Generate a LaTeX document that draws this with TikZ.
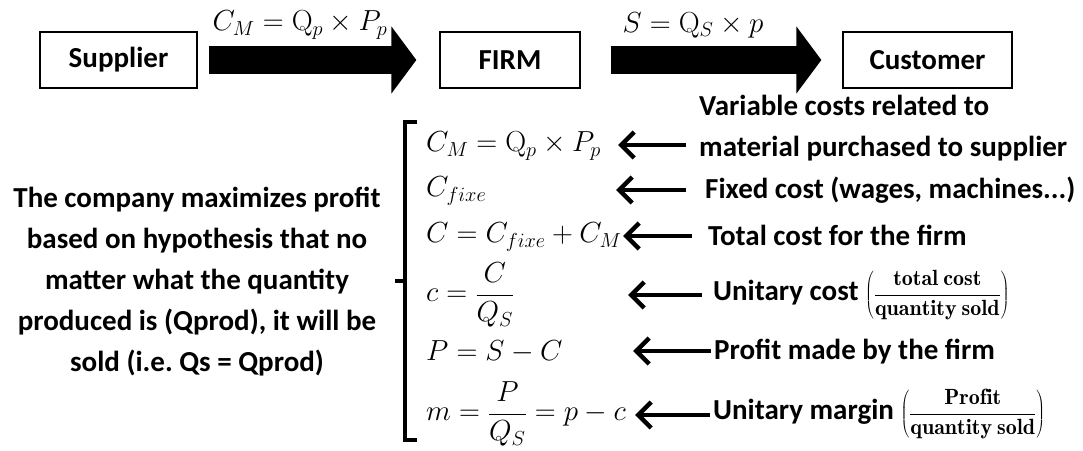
\RequirePackage{fix-cm}
\documentclass[tikz,border=0pt]{standalone}
\usepackage{fontspec}
\newfontfamily\carl{Carlito}
\usetikzlibrary{arrows.meta}
\newcommand{\labfrac}[2]{{\fontsize{22}{26}\selectfont$\displaystyle\left(\frac{\mathbf{#1}}{\mathbf{#2}}\right)$}}
\begin{document}
\begin{tikzpicture}[x=1pt,y=-1pt,
  txt/.style={font=\carl\bfseries\fontsize{29}{41}\selectfont, inner sep=0pt},
  lab/.style={txt, anchor=west},
  eq/.style={font=\fontsize{29}{35}\selectfont, inner sep=0pt, anchor=west},
  boxnode/.style={txt, draw, line width=1.3pt, minimum height=56pt},
  bigarrow/.style={line width=28pt, -{Triangle[length=25pt,width=66pt]}},
  larr/.style={line width=4.5pt, -{Straight Barb[length=13pt,width=26pt]}},
  brack/.style={line width=3.5pt}]
\useasboundingbox (0,0) rectangle (1083,450);

% top row
\node[boxnode, minimum width=157pt] (sup) at (118.5,60) {Supplier};
\node[boxnode, minimum width=140pt] (firm) at (510,60) {FIRM};
\node[boxnode, minimum width=169pt] (cust) at (927.5,60) {Customer};
\draw[bigarrow] ([xshift=11pt]sup.east) -- ([xshift=-23pt]firm.west);
\draw[bigarrow] ([xshift=30pt]firm.east) -- ([xshift=-21pt]cust.west);
\node[eq, anchor=center] (lab1) at (300,25) {$C_M = \mathrm{Q}_p \times P_p$};
\node[eq, anchor=center] (lab2) at (693,25) {$S = \mathrm{Q}_S \times p$};

% left hypothesis text
\node[txt, align=center] (hyp) at (197,282) {The company maximizes profit\\based on hypothesis that no\\matter what the quantity\\produced is (Qprod), it will be\\sold (i.e.\ Qs = Qprod)};

% bracket
\coordinate (bt) at (405,122);
\coordinate (bb) at (405,440);
\coordinate (bm) at (405,281);
\draw[brack] ([xshift=12pt]bt) -- (bt) -- (bb) -- ([xshift=12pt]bb);
\draw[brack] (bm) -- ([xshift=-10pt]bm);

% equations
\node[eq] (e1) at (426,146) {$C_M = \mathrm{Q}_p \times P_p$};
\node[eq] (e2) at (426,191) {$C_{fixe}$};
\node[eq] (e3) at (426,237) {$C = C_{fixe} + C_M$};
\node[eq] (e4) at (426,295) {$\displaystyle c = \frac{C}{Q_S}$};
\node[eq] (e5) at (426,352) {$P = S - C$};
\node[eq] (e6) at (426,414) {$\displaystyle m = \frac{P}{Q_S} = p - c$};

% labels
\node[lab, align=left] (l1) at (699,128) {Variable costs related to\\material purchased to supplier};
\node[lab] (l2) at (705,190) {Fixed cost (wages, machines...)};
\node[lab] (l3) at (708,235) {Total cost for the firm};
\node[lab] (l4) at (713,295) {Unitary cost \labfrac{total\ cost}{quantity\ sold}};
\node[lab] (l5) at (714,352) {Profit made by the firm};
\node[lab] (l6) at (713,414) {Unitary margin \labfrac{Profit}{quantity\ sold}};

% small arrows
\coordinate (s1) at (686,145); \coordinate (t1) at (618,145);
\coordinate (s2) at (686,190); \coordinate (t2) at (616,190);
\coordinate (s3) at (692,236); \coordinate (t3) at (623,236);
\coordinate (s4) at (702,295); \coordinate (t4) at (628,295);
\coordinate (s5) at (711,351); \coordinate (t5) at (633,351);
\coordinate (s6) at (710,415); \coordinate (t6) at (635,415);
\foreach \i in {1,...,6} { \draw[larr] (s\i) -- (t\i); }
\end{tikzpicture}
\end{document}
